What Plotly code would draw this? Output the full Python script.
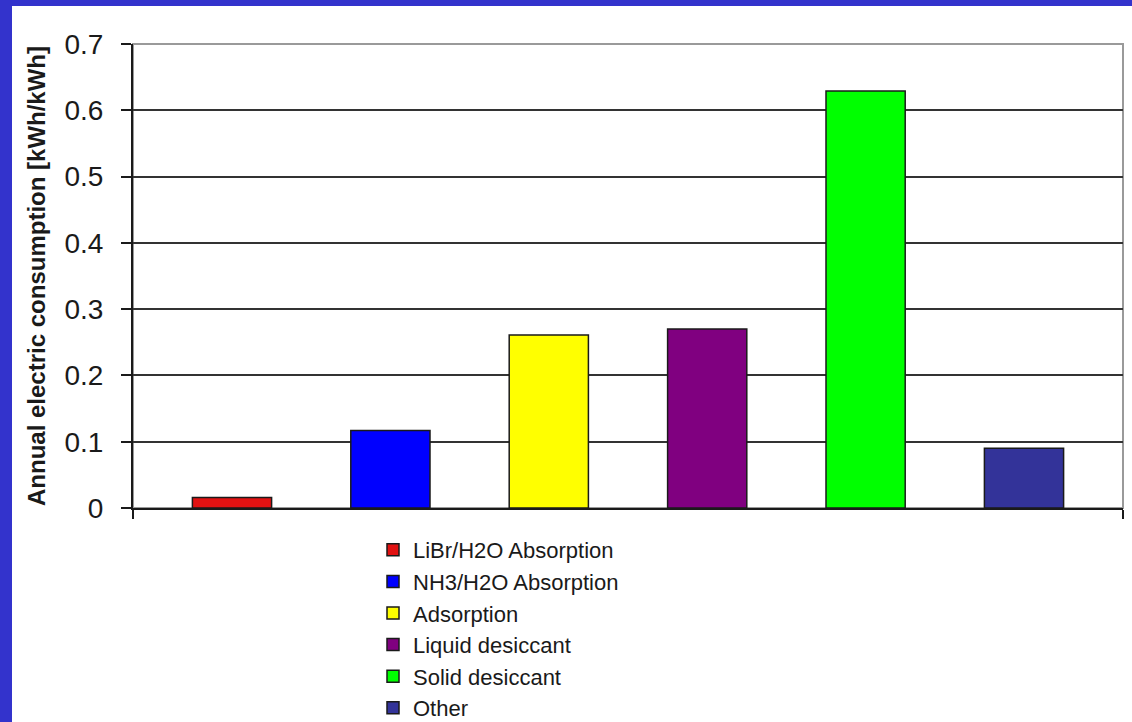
import plotly.graph_objects as go

# ---- data ----
series_names = ["LiBr/H2O Absorption", "NH3/H2O Absorption", "Adsorption",
                "Liquid desiccant", "Solid desiccant", "Other"]
values = [0.016, 0.117, 0.261, 0.270, 0.629, 0.090]
colors = ["#e21212", "#0000ff", "#ffff00", "#800080", "#00ff00", "#333399"]
category = [""]
y_ticks = [0, 0.1, 0.2, 0.3, 0.4, 0.5, 0.6, 0.7]
y_title = "Annual electric consumption [kWh/kWh]"

W, H = 1132, 722
ML, MR, MT, MB = 133, 9, 44, 214
PW, PH = W - ML - MR, H - MT - MB

fig = go.Figure()
for name, v, c in zip(series_names, values, colors):
    fig.add_trace(go.Bar(
        x=category, y=[v], name=name,
        marker=dict(color=c, line=dict(color="#1a1a1a", width=1.5)),
    ))

border = "#3333cc"
shapes = [
    # plot-area border (gray)
    dict(type="rect", xref="paper", yref="paper", x0=0, x1=1, y0=0, y1=1,
         line=dict(color="#9a9a9a", width=2), layer="below"),
    # blue frame left
    dict(type="rect", xref="paper", yref="paper",
         x0=-ML / PW - 0.01, x1=(12 - ML) / PW, y0=-1, y1=2,
         line=dict(width=0), fillcolor=border, layer="above"),
    # blue frame top
    dict(type="rect", xref="paper", yref="paper",
         x0=-0.3, x1=1.3, y0=1 + (MT - 6) / PH, y1=1 + (MT + 20) / PH,
         line=dict(width=0), fillcolor=border, layer="above"),
]

fig.update_layout(
    width=W, height=H,
    margin=dict(l=ML, r=MR, t=MT, b=MB, pad=0, autoexpand=False),
    paper_bgcolor="white", plot_bgcolor="white",
    barmode="group", bargap=0.04, bargroupgap=0.5,
    font=dict(family="Liberation Sans, Arial, sans-serif", color="#1a1a1a"),
    showlegend=True,
    legend=dict(
        x=(373 - ML) / PW, xanchor="left",
        y=-(529 - (MT + PH)) / PH, yanchor="top",
        font=dict(size=22, color="#1a1a1a"),
        itemwidth=30, bgcolor="rgba(0,0,0,0)",
        itemclick=False, traceorder="normal",
    ),
    shapes=shapes,
    xaxis=dict(
        showticklabels=False, tickson="boundaries", ticks="outside",
        ticklen=9, tickwidth=2, tickcolor="#1a1a1a",
        showline=True, linecolor="#1a1a1a", linewidth=2,
        showgrid=False, zeroline=False,
    ),
    yaxis=dict(
        range=[0, 0.7], tickvals=y_ticks,
        ticktext=[("%g" % t) for t in y_ticks],
        ticks="outside", ticklen=10, tickwidth=2, tickcolor="#1a1a1a",
        tickfont=dict(size=28, color="#1a1a1a"), ticklabelstandoff=12,
        showline=True, linecolor="#1a1a1a", linewidth=2,
        showgrid=True, gridcolor="#333333", gridwidth=2,
        zeroline=False,
        title=dict(text="<b>" + y_title + "</b>", font=dict(size=24, color="#1a1a1a"),
                   standoff=12),
    ),
)

fig.write_html(
    "out.html",
    config={"displayModeBar": False},
    post_script="document.body.style.margin='0';document.body.style.overflow='hidden';",
)
